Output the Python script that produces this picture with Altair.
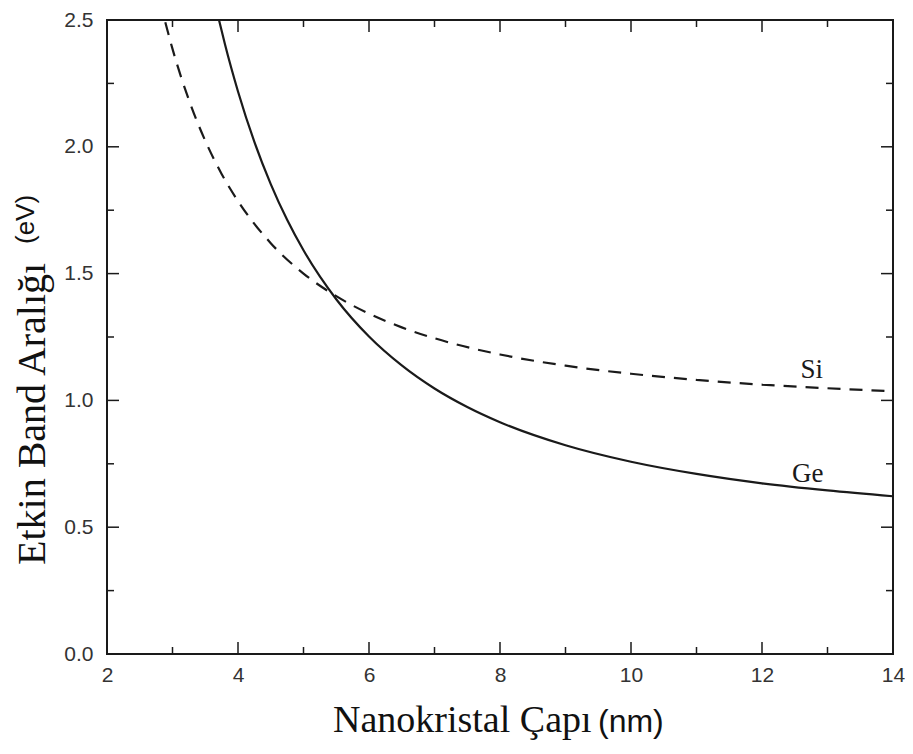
import altair as alt
import pandas as pd

# ---- data ----
ge_d = [3.71, 3.8, 4.0, 4.25, 4.5, 4.75, 5.0, 5.5, 6.0, 6.5, 7.0, 7.5, 8.0, 9.0, 10.0, 11.0, 12.0, 13.0, 14.0]
ge_e = [2.500, 2.405, 2.218, 2.019, 1.853, 1.712, 1.592, 1.399, 1.252, 1.138, 1.047, 0.974, 0.914, 0.823, 0.758, 0.710, 0.673, 0.645, 0.622]

si_d = [2.89, 3.0, 3.25, 3.5, 3.75, 4.0, 4.5, 5.0, 5.5, 6.0, 6.5, 7.0, 8.0, 9.0, 10.0, 11.0, 12.0, 13.0, 14.0]
si_e = [2.491, 2.386, 2.185, 2.024, 1.893, 1.786, 1.620, 1.500, 1.411, 1.342, 1.288, 1.245, 1.181, 1.137, 1.105, 1.081, 1.062, 1.048, 1.036]

curve_labels = ["Si", "Ge"]
curve_label_x = [12.76, 12.70]
curve_label_y = [1.12, 0.71]

x_major = [2, 4, 6, 8, 10, 12, 14]
x_minor = [3, 5, 7, 9, 11, 13]
y_major = [0.0, 0.5, 1.0, 1.5, 2.0, 2.5]
y_minor = [0.25, 0.75, 1.25, 1.75, 2.25]

x_title = "Nanokristal Çapı"
x_unit = "(nm)"
y_title = "Etkin Band Aralığı"
y_unit = "(eV)"

W, H = 786, 634
MAJ, MIN = 12, 7
INK = "#1a1a1a"

xs = alt.Scale(domain=[2, 14], nice=False, zero=False)
ys = alt.Scale(domain=[0, 2.5], nice=False, zero=False)

x_axis = alt.Axis(values=x_major, format="d", title=None, labelPadding=10, labelFlush=False,
                  labelFont="Liberation Sans", labelFontSize=21, labelColor="#333")
y_axis = alt.Axis(values=y_major, format=".1f", title=None, labelPadding=14, labelFlush=False,
                  labelFont="Liberation Sans", labelFontSize=21, labelColor="#333")

ge_df = pd.DataFrame({"d": ge_d, "e": ge_e})
si_df = pd.DataFrame({"d": si_d, "e": si_e})

ge_line = alt.Chart(ge_df).mark_line(color=INK, strokeWidth=2.2, interpolate="monotone", clip=True).encode(
    x=alt.X("d:Q", scale=xs, axis=x_axis),
    y=alt.Y("e:Q", scale=ys, axis=y_axis),
)
si_line = alt.Chart(si_df).mark_line(color=INK, strokeWidth=2.2, strokeDash=[13, 9], interpolate="monotone", clip=True).encode(
    x=alt.X("d:Q", scale=xs),
    y=alt.Y("e:Q", scale=ys),
)

lab_df = pd.DataFrame({"t": curve_labels, "x": curve_label_x, "y": curve_label_y})
labels = alt.Chart(lab_df).mark_text(font="Liberation Serif", fontSize=27, color=INK).encode(
    x=alt.X("x:Q", scale=xs), y=alt.Y("y:Q", scale=ys), text="t:N"
)

def xticks(vals, length):
    df = pd.DataFrame({"v": vals})
    bottom = alt.Chart(df).mark_rule(color=INK, strokeWidth=1.5).encode(
        x=alt.X("v:Q", scale=xs), y=alt.value(H), y2=alt.value(H - length))
    top = alt.Chart(df).mark_rule(color=INK, strokeWidth=1.5).encode(
        x=alt.X("v:Q", scale=xs), y=alt.value(0), y2=alt.value(length))
    return [bottom, top]

def yticks(vals, length):
    df = pd.DataFrame({"v": vals})
    left = alt.Chart(df).mark_rule(color=INK, strokeWidth=1.5).encode(
        y=alt.Y("v:Q", scale=ys), x=alt.value(0), x2=alt.value(length))
    right = alt.Chart(df).mark_rule(color=INK, strokeWidth=1.5).encode(
        y=alt.Y("v:Q", scale=ys), x=alt.value(W), x2=alt.value(W - length))
    return [left, right]

ticks = xticks(x_major, MAJ) + xticks(x_minor, MIN) + yticks(y_major, MAJ) + yticks(y_minor, MIN)

def txt(s, x, y, font, size, angle=0):
    return alt.Chart(pd.DataFrame({"t": [s]})).mark_text(
        font=font, fontSize=size, color="#111", align="left", baseline="alphabetic", angle=angle
    ).encode(x=alt.value(x), y=alt.value(y), text="t:N")

titles = [
    txt(x_title, 226, 712, "Liberation Serif", 38),
    txt(x_unit, 491, 712, "Liberation Sans", 32),
    txt(y_title, -62, 545, "Liberation Serif", 40, angle=270),
    txt(y_unit, -73, 224, "Liberation Sans", 26, angle=270),
]

chart = alt.layer(ge_line, si_line, labels, *ticks, *titles).properties(
    width=W, height=H,
    autosize=alt.AutoSizeParams(type="none"),
    padding={"left": 99, "top": 12, "right": 12, "bottom": 90},
).configure_view(stroke=INK, strokeWidth=2).configure_axis(
    grid=False, ticks=False, domain=False,
)

chart.save("out.html", embed_options={"renderer": "svg", "actions": False})
